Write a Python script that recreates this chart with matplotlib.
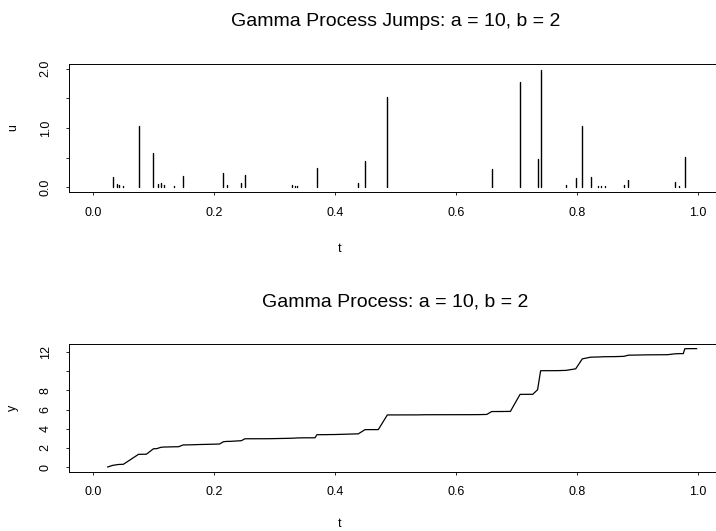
import numpy as np
import matplotlib
matplotlib.use("Agg")
import matplotlib.pyplot as plt

plt.rcParams['font.family'] = ['Liberation Sans', 'DejaVu Sans']

# jump times and sizes (checked against the running sum below)
t = [0.024, 0.0325, 0.039, 0.042, 0.050, 0.075, 0.082, 0.088, 0.0997, 0.105,
     0.108, 0.112, 0.117, 0.122, 0.133, 0.141, 0.149, 0.163, 0.167, 0.173,
     0.180, 0.188, 0.196, 0.204, 0.209, 0.2155, 0.221, 0.226, 0.245, 0.251,
     0.284, 0.294, 0.297, 0.328, 0.333, 0.337, 0.342, 0.348, 0.367, 0.370,
     0.383, 0.387, 0.392, 0.400, 0.4385, 0.4496, 0.4716, 0.4865, 0.537, 0.541,
     0.545, 0.549, 0.579, 0.620, 0.6286, 0.637, 0.645, 0.651, 0.659, 0.676,
     0.681, 0.690, 0.706, 0.727, 0.735, 0.740, 0.744, 0.768, 0.782, 0.798,
     0.809, 0.823, 0.835, 0.840, 0.846, 0.863, 0.878, 0.885, 0.896, 0.904,
     0.912, 0.926, 0.950, 0.962, 0.969, 0.976, 0.9785, 0.984, 0.998]
u = [0.005, 0.17, 0.06, 0.03, 0.02, 1.04, 0.005, 0.005, 0.57, 0.01,
     0.06, 0.08, 0.03, 0.005, 0.02, 0.005, 0.19, 0.012, 0.012, 0.012,
     0.012, 0.012, 0.012, 0.012, 0.012, 0.24, 0.03, 0.005, 0.07, 0.20,
     0.005, 0.005, 0.005, 0.04, 0.015, 0.015, 0.01, 0.005, 0.005, 0.32,
     0.005, 0.005, 0.005, 0.005, 0.07, 0.44, 0.005, 1.53, 0.005, 0.005,
     0.005, 0.005, 0.003, 0.003, 0.003, 0.003, 0.01, 0.01, 0.30, 0.005,
     0.005, 0.005, 1.78, 0.005, 0.48, 1.98, 0.005, 0.005, 0.03, 0.16,
     1.04, 0.18, 0.015, 0.015, 0.015, 0.01, 0.03, 0.12, 0.01, 0.01,
     0.01, 0.01, 0.01, 0.09, 0.02, 0.005, 0.51, 0.005, 0.005]
y = np.cumsum(u)

xticks = [0.0, 0.2, 0.4, 0.6, 0.8, 1.0]
xticklabels = ["0.0", "0.2", "0.4", "0.6", "0.8", "1.0"]
uticks = [0.0, 0.5, 1.0, 1.5, 2.0]
uticklabels = ["0.0", "", "1.0", "", "2.0"]
yticks = [0, 2, 4, 6, 8, 10, 12]
yticklabels = ["0", "2", "4", "6", "8", "", "12"]

W, H = 716, 531
fig = plt.figure(figsize=(W / 100, H / 100), dpi=100)

def px_axes(left, top, right, bottom):
    return fig.add_axes([left / W, 1 - bottom / H, (right - left) / W, (bottom - top) / H])

def style(ax, title, xlab, ylab, yt, ytl, ylim, xlab_y):
    ax.set_xlim(-0.04, 1.04)
    ax.set_ylim(*ylim)
    ax.set_xticks(xticks)
    ax.set_xticklabels(xticklabels)
    ax.set_yticks(yt)
    ax.set_yticklabels(ytl, rotation=90, va="center")
    ax.tick_params(length=2.5, width=0.6, labelsize=9, direction="out")
    ax.tick_params(axis="x", pad=8)
    ax.tick_params(axis="y", pad=10)
    for s in ax.spines.values():
        s.set_linewidth(0.7)
    ax.set_title(title, fontsize=14, pad=27)
    ax.set_xlabel(xlab, fontsize=9)
    ax.xaxis.set_label_coords(0.415, xlab_y)
    ax.set_ylabel(ylab, fontsize=9)
    ax.yaxis.set_label_coords(-0.076, 0.5)

ax1 = px_axes(69, 64, 722, 192)
lc = ax1.vlines(t, 0, u, colors="black", linewidth=1.0)
lc.set_capstyle("round")
style(ax1, "Gamma Process Jumps: a = 10, b = 2", "t", "u", uticks, uticklabels,
      (-0.08, 2.08), -0.395)

ax2 = px_axes(69, 344, 722, 471.7)
ax2.plot(t, y, color="black", linewidth=0.9)
style(ax2, "Gamma Process: a = 10, b = 2", "t", "y", yticks, yticklabels,
      (-0.49, 12.84), -0.36)

fig.savefig("out.png", dpi=100)
